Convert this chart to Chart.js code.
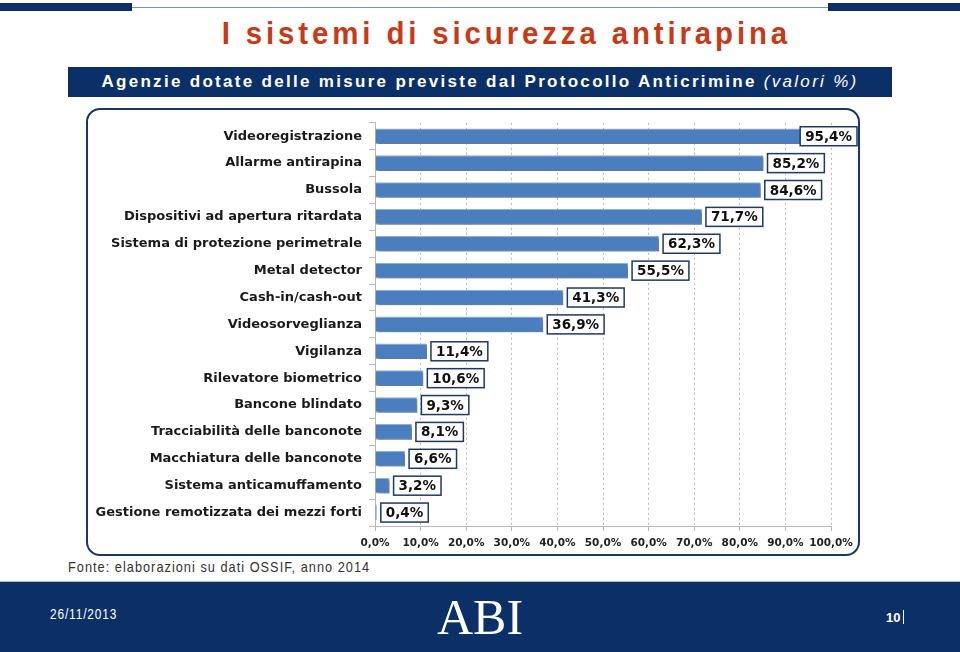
<!DOCTYPE html>
<html>
<head>
<meta charset="utf-8">
<script src="https://cdn.jsdelivr.net/npm/chart.js@4"></script>
<style>
  body { margin: 0; width: 960px; height: 652px; overflow: hidden; background: #fff; position: relative; font-family: "Liberation Sans", Arial, sans-serif; }
  .abs { position: absolute; }
  .center { display: flex; justify-content: center; }
  .narrow { display: inline-block; transform-origin: center center; white-space: nowrap; }
  #topline { left: 0; top: 7px; width: 960px; height: 1px; background: #7f90ab; }
  .topbar { top: 3px; width: 132px; height: 8px; background: #0b3068; }
  #title { left: 0; top: 15px; width: 1012px; color: #c73a17; font-weight: bold; font-size: 32px; white-space: nowrap; }
  #title .narrow { transform: scaleX(0.92); letter-spacing: 4.2px; }
  #band { left: 68px; top: 67px; width: 824px; height: 30px; background: #0b3068; color: #fff; line-height: 30px; font-size: 17px; font-weight: bold; white-space: nowrap; }
  #band .narrow { letter-spacing: 2.3px; }
  #band i { font-weight: normal; }
  #box { left: 86px; top: 108px; width: 770px; height: 444px; border: 2px solid #1c3766; border-radius: 14px; }
  #chartWrap { left: 86px; top: 108px; width: 774px; height: 448px; }
  #source { left: 68px; top: 558px; width: 305px; font-size: 15px; color: #333; }
  #source .narrow { transform: scaleX(0.85); transform-origin: left center; letter-spacing: 1.2px; }
  #footer { left: 0; top: 581px; width: 960px; height: 71px; background: #0b3068; border-top: 1px solid #a8b6ca; }
  #date { left: 50px; top: 606px; color: #fff; font-size: 14px; }
  #date .narrow { transform: scaleX(0.85); transform-origin: left center; letter-spacing: 1px; }
  #logo { left: 380px; top: 588px; width: 200px; text-align: center; color: #fff; font-family: "Liberation Serif", serif; font-size: 50px; }
  #page { left: 886px; top: 610px; color: #fff; font-size: 13px; font-weight: bold; }
  #page span { display: inline-block; width: 1px; height: 14px; background: #fff; margin-left: 3px; vertical-align: -2px; }
</style>
</head>
<body>
<div id="topline" class="abs"></div>
<div class="abs topbar" style="left:0"></div>
<div class="abs topbar" style="left:828px"></div>
<div id="title" class="abs center"><span class="narrow">I sistemi di sicurezza antirapina</span></div>
<div id="band" class="abs center"><span class="narrow">Agenzie dotate delle misure previste dal Protocollo Anticrimine <i>(valori %)</i></span></div>
<div id="box" class="abs"></div>
<div id="chartWrap" class="abs"><canvas id="myChart" width="774" height="448"></canvas></div>
<div id="source" class="abs"><span class="narrow">Fonte: elaborazioni su dati OSSIF, anno 2014</span></div>
<div id="footer" class="abs"></div>
<div id="date" class="abs"><span class="narrow">26/11/2013</span></div>
<div id="logo" class="abs">ABI</div>
<div id="page" class="abs">10<span></span></div>

<script>
const categories = [
  'Videoregistrazione',
  'Allarme antirapina',
  'Bussola',
  'Dispositivi ad apertura ritardata',
  'Sistema di protezione perimetrale',
  'Metal detector',
  'Cash-in/cash-out',
  'Videosorveglianza',
  'Vigilanza',
  'Rilevatore biometrico',
  'Bancone blindato',
  'Tracciabilità delle banconote',
  'Macchiatura delle banconote',
  'Sistema anticamuffamento',
  'Gestione remotizzata dei mezzi forti',
];
const values = [95.4, 85.2, 84.6, 71.7, 62.3, 55.5, 41.3, 36.9, 11.4, 10.6, 9.3, 8.1, 6.6, 3.2, 0.4];
const xTicks = [0, 10, 20, 30, 40, 50, 60, 70, 80, 90, 100];

const fmt = v => v.toFixed(1).replace('.', ',') + '%';

// ombra sotto le barre
const barShadow = {
  id: 'barShadow',
  beforeDatasetsDraw(chart) {
    const ctx = chart.ctx;
    ctx.save();
    ctx.shadowColor = 'rgba(0,0,0,0.35)';
    ctx.shadowOffsetX = 2;
    ctx.shadowOffsetY = 2;
    ctx.shadowBlur = 2;
  },
  afterDatasetsDraw(chart) {
    chart.ctx.restore();
  },
};

// etichette con riquadro a destra delle barre
const boxLabels = {
  id: 'boxLabels',
  afterDatasetsDraw(chart) {
    const ctx = chart.ctx;
    const meta = chart.getDatasetMeta(0);
    ctx.save();
    ctx.font = 'bold 13.5px "DejaVu Sans", Verdana, sans-serif';
    ctx.textBaseline = 'middle';
    ctx.textAlign = 'center';
    meta.data.forEach((bar, i) => {
      const text = fmt(values[i]);
      const w = ctx.measureText(text).width + 10;
      const h = 19;
      let x0 = bar.x + 4;
      if (x0 + w > chart.width - 3) x0 = chart.width - 3 - w;
      const y0 = bar.y - h / 2;
      ctx.fillStyle = '#fff';
      ctx.fillRect(x0, y0, w, h);
      ctx.lineWidth = 1.5;
      ctx.strokeStyle = '#1f3864';
      ctx.strokeRect(x0, y0, w, h);
      ctx.fillStyle = '#111';
      ctx.fillText(text, x0 + w / 2, bar.y + 1);
    });
    ctx.restore();
  },
};

const ctx = document.getElementById('myChart').getContext('2d');

new Chart(ctx, {
  type: 'bar',
  data: {
    labels: categories,
    datasets: [{
      data: values,
      backgroundColor: '#4a7ebf',
      borderColor: '#8fb0da',
      borderWidth: 1,
      barPercentage: 0.58,
      categoryPercentage: 1,
    }],
  },
  options: {
    indexAxis: 'y',
    responsive: false,
    animation: false,
    layout: { padding: { left: 0, right: 29, top: 2, bottom: 0 } },
    plugins: {
      legend: { display: false },
      tooltip: { enabled: false },
    },
    scales: {
      x: {
        min: 0,
        max: 100,
        afterBuildTicks: scale => { scale.ticks = xTicks.map(v => ({ value: v })); },
        afterFit: scale => { scale.height = 30; },
        ticks: {
          callback: v => fmt(v),
          color: '#222',
          padding: 6,
          autoSkip: false,
          maxRotation: 0,
          font: { family: '"DejaVu Sans", Verdana, sans-serif', size: 10.5, weight: 'bold' },
        },
        grid: { color: '#b8b8b8', tickLength: 5, tickColor: '#b8b8b8' },
        border: { color: '#b8b8b8', dash: [2, 3] },
      },
      y: {
        afterFit: scale => { scale.width = 289; },
        ticks: {
          color: '#1a1a1a',
          padding: 7,
          font: { family: '"DejaVu Sans", Verdana, sans-serif', size: 13, weight: 'bold' },
        },
        grid: { drawOnChartArea: false, tickLength: 6, color: '#b8b8b8', offset: true },
        border: { color: '#b8b8b8' },
      },
    },
  },
  plugins: [barShadow, boxLabels],
});
</script>
</body>
</html>
